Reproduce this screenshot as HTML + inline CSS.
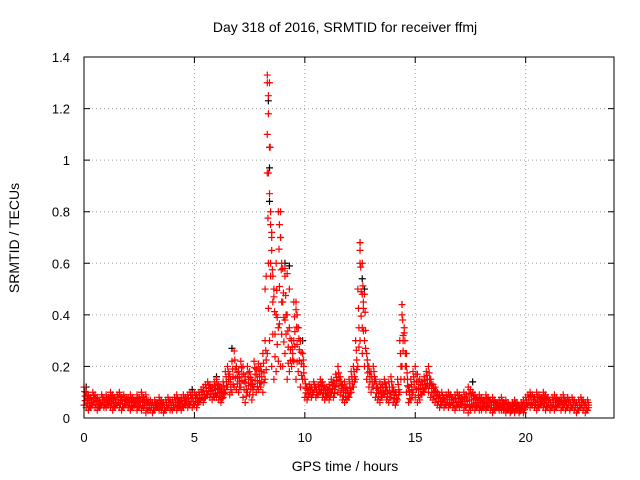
<!DOCTYPE html>
<html><head><meta charset="utf-8"><style>
body{margin:0;background:#fff}
svg{display:block;font-family:"Liberation Sans",sans-serif}
</style></head><body>
<svg id="c" width="640" height="480">
<text x="345" y="32" text-anchor="middle" font-size="14">Day 318 of 2016, SRMTID for receiver ffmj</text>
<text x="345" y="471" text-anchor="middle" font-size="14">GPS time / hours</text>
<text x="19" y="238" text-anchor="middle" font-size="14" transform="rotate(-90 19 238)">SRMTID / TECUs</text>
<g id="grid"></g><g id="ticks"></g><g id="marks"></g>
<rect x="84" y="57" width="530" height="361" fill="none" stroke="#000" stroke-width="1"/>
</svg>
<script>
const xTicks=[0,5,10,15,20];
const yTicks=[0,0.2,0.4,0.6,0.8,1,1.2,1.4];
const yTickLabels=["0","0.2","0.4","0.6","0.8","1","1.2","1.4"];
const redHigh=[.12,.1,.09,.08,.1,.09,.08,.07,.09,.08,
.09,.08,.1,.09,.08,.09,.1,.08,.09,.08,
.08,.09,.08,.07,.09,.08,.1,.08,.09,.07,
.07,.06,.07,.06,.08,.07,.06,.07,.08,.07,
.07,.08,.09,.07,.08,.09,.08,.09,.1,.09,
.1,.09,.1,.11,.12,.13,.14,.13,.12,.14,
.15,.13,.12,.14,.18,.2,.17,.22,.26,.2,
.18,.22,.2,.16,.2,.18,.15,.22,.19,.21,
.2,.25,.3,.95,1.3,.7,.5,.6,.8,.7,
.58,.55,.4,.35,.3,.45,.42,.35,.3,.25,
.15,.12,.13,.12,.14,.12,.13,.15,.14,.12,
.12,.13,.15,.14,.17,.2,.16,.13,.14,.12,
.15,.18,.2,.3,.5,.68,.6,.48,.25,.2,
.18,.2,.15,.12,.14,.13,.15,.12,.14,.16,
.12,.1,.15,.3,.44,.35,.2,.12,.15,.18,
.2,.17,.15,.14,.16,.18,.2,.15,.13,.12,
.1,.09,.1,.08,.09,.1,.09,.08,.09,.1,
.09,.08,.1,.09,.12,.11,.1,.09,.08,.09,
.08,.07,.09,.08,.07,.08,.07,.06,.07,.08,
.06,.07,.06,.05,.06,.07,.06,.05,.06,.07,
.08,.09,.1,.09,.08,.1,.09,.08,.1,.09,
.08,.07,.08,.09,.08,.07,.08,.09,.07,.08,
.07,.08,.07,.06,.07,.08,.07,.06,.07];
const redLow=[.05,.04,.03,.04,.05,.04,.03,.04,.05,.04,
.04,.05,.04,.03,.04,.05,.04,.03,.04,.05,
.04,.03,.04,.05,.03,.04,.03,.04,.02,.03,
.03,.02,.03,.04,.03,.03,.02,.03,.04,.03,
.03,.04,.03,.04,.03,.04,.05,.04,.05,.04,
.05,.04,.06,.07,.06,.08,.09,.08,.07,.08,
.08,.07,.06,.08,.1,.12,.09,.1,.12,.11,
.1,.12,.08,.06,.1,.09,.07,.12,.1,.11,
.12,.1,.15,.25,.3,.2,.15,.18,.22,.2,
.2,.25,.15,.18,.2,.22,.15,.18,.12,.15,
.08,.07,.09,.08,.1,.08,.09,.1,.08,.07,
.08,.07,.1,.08,.12,.1,.09,.07,.06,.07,
.08,.1,.12,.15,.2,.3,.25,.2,.15,.12,
.1,.12,.08,.07,.06,.08,.09,.07,.06,.08,
.06,.05,.07,.1,.2,.15,.1,.06,.07,.1,
.08,.06,.07,.09,.1,.12,.1,.08,.07,.06,
.05,.04,.05,.04,.05,.04,.05,.04,.03,.05,
.04,.05,.03,.04,.02,.03,.04,.03,.04,.03,
.03,.04,.03,.04,.03,.02,.03,.04,.03,.03,
.03,.02,.03,.02,.03,.02,.03,.02,.03,.02,
.04,.05,.04,.05,.04,.03,.04,.05,.04,.03,
.04,.03,.04,.03,.04,.05,.03,.04,.03,.04,
.03,.04,.03,.02,.03,.04,.03,.02,.03];
const spikeTimes=[8.3,8.3,8.35,8.35,8.4,8.3,8.35,8.4,8.45,8.5,8.5,8.45,8.55,8.6,8.7,8.9,8.85,8.9,8.95,9.1,9.2,9.3,9.0,9.1,9.6,9.65,9.7,9.8,9.5,12.5,12.5,12.5,12.6,12.65,12.6,12.7,14.4,14.4,14.5,14.45,14.6,8.2,8.25,8.8];
const spikeValues=[1.33,1.3,1.25,1.18,1.05,1.1,.95,.87,.75,.72,.65,.6,.55,.47,.4,.8,.75,.7,.6,.58,.56,.5,.45,.38,.45,.4,.35,.3,.3,.68,.65,.6,.48,.45,.35,.3,.44,.4,.33,.3,.25,.5,.55,.35];
const blackTimes=[0.1,4.9,6.7,8.35,8.4,8.4,9.1,9.3,12.6,12.7,17.6,19.5,9.9,6];
const blackValues=[.12,.11,.27,1.23,.97,.84,.6,.59,.54,.5,.14,.06,.3,.16];

const X=t=>84+t*530/24, Y=v=>418-v*361/1.4;
const NS="http://www.w3.org/2000/svg";
function mk(tag,attrs,parent){const e=document.createElementNS(NS,tag);for(const k in attrs)e.setAttribute(k,attrs[k]);parent.appendChild(e);return e;}
const grid=document.getElementById('grid'),ticks=document.getElementById('ticks'),marks=document.getElementById('marks');
xTicks.forEach(t=>{const x=X(t);
 if(t>0){const g=mk('line',{x1:x,x2:x,y1:57,y2:418,stroke:'#a0a0a0','stroke-dasharray':'1,3'},grid);
 
 }
 const tk=mk('path',{d:`M${x} 418v-6M${x} 57v6`,stroke:'#000'},ticks);
 
 
 const l=mk('text',{x:x,y:442,'text-anchor':'middle','font-size':13},ticks);l.textContent=t;
 
 
});
yTicks.forEach((v,i)=>{const y=Y(v);
 if(v>0&&v<1.4){const g=mk('line',{x1:84,x2:614,y1:y,y2:y,stroke:'#a0a0a0','stroke-dasharray':'1,3'},grid);
 
 }
 const tk=mk('path',{d:`M84 ${y}h6M614 ${y}h-6`,stroke:'#000'},ticks);
 
 
 const l=mk('text',{x:70,y:y+5,'text-anchor':'end','font-size':13},ticks);l.textContent=yTickLabels[i];
 
 
});
function cross(t,v,col,name){const x=X(t),y=Y(v);
 const p=mk('path',{d:`M${x-3.5} ${y}h7M${x} ${y-3.5}v7`,stroke:col,'stroke-width':1.2},marks);
 
 }
blackTimes.forEach((t,i)=>cross(t,blackValues[i],'#000','black-point'));
redHigh.forEach((v,i)=>{const t=i*0.1,l=redLow[i];
 cross(t,v,'#f00','red-point');
 cross(t,l,'#f00','red-point');
 cross(t+0.05,(v+l)/2,'#f00','red-point');
 cross(t+0.05,l+(v-l)*0.25,'#f00','red-point');
 cross(t+0.03,l+(v-l)*0.75,'#f00','red-point');
});
spikeTimes.forEach((t,i)=>cross(t,spikeValues[i],'#f00','red-point'));
</script>
</body></html>
